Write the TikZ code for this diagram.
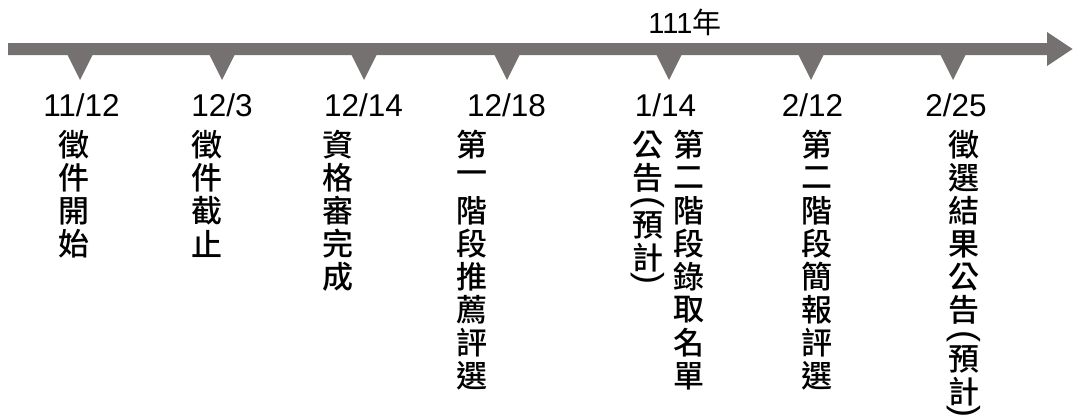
\documentclass[tikz,border=0pt]{standalone}
\usepackage{fontspec}
\setmainfont{Liberation Sans}
\newfontfamily\cjk{Noto Sans CJK TC Medium}
\newfontfamily\cjkr{Noto Sans CJK TC}
\definecolor{barcol}{HTML}{767171}
\newcommand\vcol[4]{%
  \foreach \c [count=\i from 0] in {#4}
    \node[ch] (#1-\i) at (#2, #3+33*\i) {\c};}
\begin{document}
\begin{tikzpicture}[x=1pt,y=-1pt,
  date/.style={font=\fontsize{31.5}{31.5}\selectfont, inner sep=0pt, anchor=base},
  ch/.style={font=\cjk\fontsize{31}{31}\selectfont, inner sep=0pt},
  par/.style={font=\fontsize{36}{36}\selectfont, inner sep=0pt, rotate=-90},
  tick/.style={fill=barcol}]
\useasboundingbox (0,0) rectangle (1073,415);
% timeline arrow
\fill[barcol] (8,43) -- (1047,43) -- (1047,32) -- (1072.5,49) -- (1047,66) -- (1047,55) -- (8,55) -- cycle;
\node[font=\fontsize{29}{29}\selectfont, inner sep=0pt, anchor=base] (year) at (685,33) {111{\cjkr 年}};
% ticks
\foreach \x [count=\k] in {80,222,364,507,669,811,953}
  \fill[tick] (\x-13,54) -- (\x+13,54) -- (\x,80) -- cycle;
% dates
\node[date] (d1) at (81.5,116) {11/12};
\node[date] (d2) at (222,116) {12/3};
\node[date] (d3) at (363.5,116) {12/14};
\node[date] (d4) at (506.5,116) {12/18};
\node[date] (d5) at (665.5,116) {1/14};
\node[date] (d6) at (812.5,116) {2/12};
\node[date] (d7) at (956,116) {2/25};
% vertical labels
\vcol{a}{74}{145}{徵,件,開,始}
\vcol{b}{207}{145}{徵,件,截,止}
\vcol{c}{338}{145}{資,格,審,完,成}
\vcol{d}{472}{145}{第,一,階,段,推,薦,評,選}
\vcol{e}{689}{145}{第,二,階,段,錄,取,名,單}
\vcol{el}{648}{145}{公,告}
\node[par] (el-p1) at (648,202) {(};
\vcol{em}{648}{225}{預,計}
\node[par] (el-p2) at (648,278) {)};
\vcol{f}{817}{145}{第,二,階,段,簡,報,評,選}
\vcol{g}{964}{145}{徵,選,結,果,公,告}
\node[par] (g-p1) at (964,336) {(};
\vcol{gm}{964}{359}{預,計}
\node[par] (g-p2) at (964,411) {)};
\end{tikzpicture}
\end{document}
